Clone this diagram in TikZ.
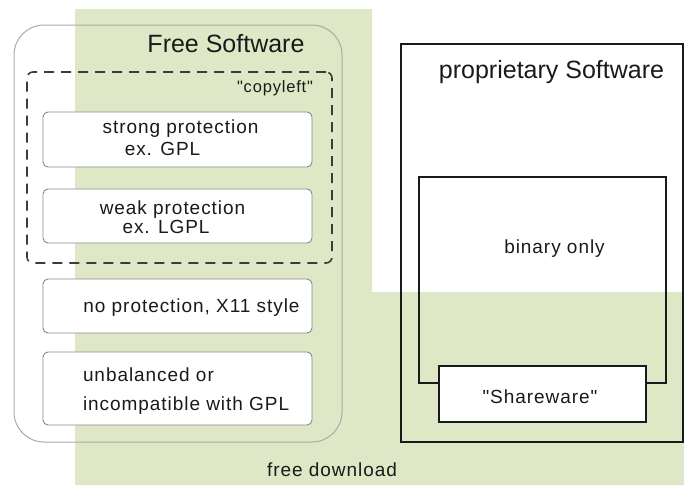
\documentclass[tikz,border=0pt]{standalone}
\usepackage{fontspec}
\setmainfont{Liberation Sans}
\newfontfamily\lblfont[LetterSpace=5]{Liberation Sans}
\definecolor{dlgreen}{HTML}{DFE8C6}
\definecolor{txt}{HTML}{1A1A1A}
\definecolor{softline}{HTML}{AAAAAA}
\definecolor{boxline}{HTML}{888888}
\definecolor{hardline}{HTML}{1A1A1A}
\begin{document}
\begin{tikzpicture}[x=1pt,y=-1pt,
  every node/.style={inner sep=0pt, outer sep=0pt, text=txt},
  title/.style={font=\fontsize{25}{30}\selectfont, anchor=base},
  lbl/.style={font=\lblfont\fontsize{19}{23}\selectfont, anchor=base},
  smalllbl/.style={font=\lblfont\fontsize{16.5}{20}\selectfont, anchor=base east},
  area/.style={draw=softline, line width=1pt, rounded corners=30pt, anchor=north west},
  licbox/.style={draw=boxline, fill=white, line width=0.9pt, rounded corners=5pt, anchor=north west},
  groupbox/.style={draw=hardline!85, line width=1.6pt, dash pattern=on 10pt off 7pt, rounded corners=6pt, anchor=north west},
  propbox/.style={draw=hardline, line width=1.5pt, anchor=north west}
]
\useasboundingbox (0,0) rectangle (684,485);

% free-download area
\fill[dlgreen] (75,9) -- (372,9) -- (372,292) -- (684,292) -- (684,485) -- (75,485) -- cycle;

% free software side
\node[area, minimum width=328pt, minimum height=417pt] (fsw) at (14,25) {};
\node[groupbox, minimum width=305pt, minimum height=191pt] (copyleft) at (27,72) {};
\node[licbox, minimum width=269pt, minimum height=55pt] (strong) at (43,112) {};
\node[licbox, minimum width=269pt, minimum height=54pt] (weak) at (43,189) {};
\node[licbox, minimum width=269pt, minimum height=54pt] (noprot) at (43,279) {};
\node[licbox, minimum width=269pt, minimum height=73pt] (unbal) at (43,352) {};

\node[title] (tfree) at (226,52) {Free Software};
\node[smalllbl] (tcopy) at (313,92) {"copyleft"};
\node[lbl] (tstrong) at (180.5,133) {strong protection};
\node[lbl] (tgpl) at (162.5,155) {ex. GPL};
\node[lbl] (tweak) at (172.5,214) {weak protection};
\node[lbl] (tlgpl) at (166,233) {ex. LGPL};
\node[lbl] (tnoprot) at (191.5,312) {no protection, X11 style};
\node[lbl, anchor=base west] (tunbal) at (83,381) {unbalanced or};
\node[lbl, anchor=base west] (tincomp) at (83,410) {incompatible with GPL};

% proprietary side
\node[propbox, minimum width=282pt, minimum height=398pt] (prop) at (401,44) {};
\node[propbox, minimum width=247pt, minimum height=206pt] (binary) at (419,177) {};
\node[propbox, fill=white, minimum width=207pt, minimum height=56pt] (share) at (439,366) {};

\node[title] (tprop) at (551.5,78) {proprietary Software};
\node[lbl] (tbin) at (554.5,253) {binary only};
\node[lbl] (tshare) at (540,403) {"Shareware"};
\node[lbl] (tdl) at (332,476) {free download};
\end{tikzpicture}
\end{document}
